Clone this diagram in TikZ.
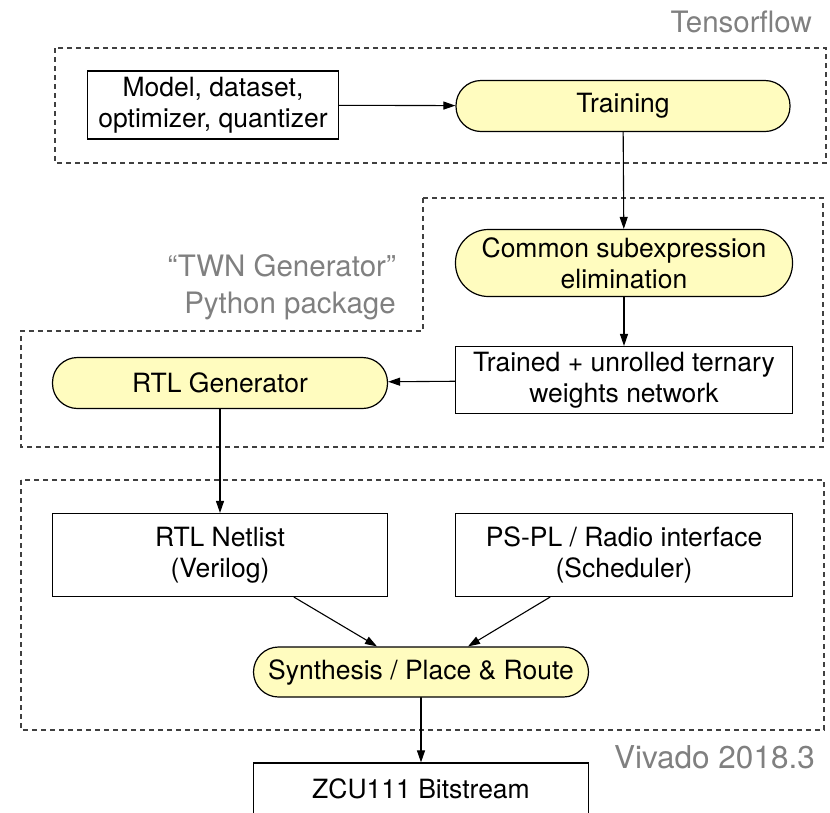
\documentclass[tikz,border=0pt]{standalone}
\usepackage{fontspec}
\setmainfont{TeX Gyre Heros}
\usetikzlibrary{arrows.meta}

\begin{document}
\begin{tikzpicture}
	[x=1pt,y=-1pt,line cap=round,
	%Styles
	box/.style={draw,line width=1.2pt,rectangle,align=center,inner sep=0pt,
		font=\fontsize{26.5}{31}\selectfont},
	process/.style={box,fill=procfill,rounded corners=#1},
	process/.default=25pt,
	flow/.style={line width=1.1pt,-{Triangle[length=12pt,width=8pt]}},
	region/.style={line width=1.2pt,dash pattern=on 5pt off 4pt,line cap=butt,draw=black!75},
	region text/.style={text=labelgray,font=\fontsize{29.5}{37}\selectfont,inner sep=0pt}
	]
	
	%Colors
	\colorlet{procfill}{yellow!25!white}
	\colorlet{labelgray}{black!50}
	
	\useasboundingbox (0,0) rectangle (830,812);
	
	%Regions
	\draw[region] (55,48) rectangle (826,163);
	\draw[region] (423,198) -- (823,198) -- (823,447) -- (21,447) -- (21,331) -- (423,331) -- cycle;
	\draw[region] (21,480) rectangle (824,730);
	\node[region text,anchor=east] (tf) at (812,22) {Tensorflow};
	\node[region text,anchor=east,align=right] (twn) at (396,287) {``TWN Generator''\\Python package};
	\node[region text,anchor=east,font=\fontsize{31.5}{37}\selectfont] (viv) at (815,757) {Vivado 2018.3};
	
	%The graphic
	\node[box,minimum width=251,minimum height=68] (model) at (213,105) {Model, dataset,\\optimizer, quantizer};
	\node[process,minimum width=334,minimum height=51] (train) at (623,106) {Training};
	\node[process=33pt,minimum width=337,minimum height=67] (cse) at (624,263) {Common subexpression\\elimination};
	\node[box,minimum width=337,minimum height=67] (twnet) at (624,380) {Trained + unrolled ternary\\weights network};
	\node[process,minimum width=335,minimum height=51] (rtlgen) at (220,383) {RTL Generator};
	\node[box,minimum width=335,minimum height=83] (netlist) at (220,555) {RTL Netlist\\(Verilog)};
	\node[box,minimum width=337,minimum height=83] (pspl) at (624,555) {PS-PL / Radio interface\\(Scheduler)};
	\node[process,minimum width=335,minimum height=50] (synth) at (421,672) {Synthesis / Place \& Route};
	\node[box,minimum width=335,minimum height=52] (zcu) at (421,789) {ZCU111 Bitstream};
	
	\draw[flow] (model) -- (train);
	\draw[flow] (train) -- (cse);
	\draw[flow] (cse) -- (twnet);
	\draw[flow] (twnet) -- (rtlgen);
	\draw[flow] (rtlgen) -- (netlist);
	\draw[flow] ([xshift=74pt]netlist.south) -- ([xshift=-44pt]synth.north);
	\draw[flow] ([xshift=-74pt]pspl.south) -- ([xshift=47pt]synth.north);
	\draw[flow] (synth) -- (zcu);
\end{tikzpicture}
\end{document}
